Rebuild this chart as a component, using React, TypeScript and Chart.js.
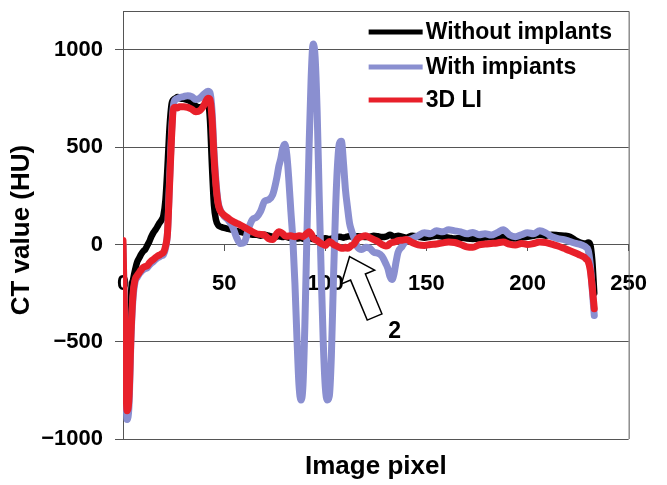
import React, { useEffect, useRef } from 'react';
import { Chart, registerables } from 'chart.js';

Chart.register(...registerables);

// Image pixel positions (x values shared by all three profiles)
const pixels = [
  0, 1, 2, 3, 4, 5, 6, 7, 8, 9, 10, 11, 12, 13, 14, 15, 16, 17, 18, 19, 20, 21, 22, 23, 24, 25, 26, 27, 28,
  30, 32, 34, 36, 38, 40, 42,
  43, 44, 45, 46, 47, 48, 49, 50,
  52, 54, 56, 58, 60, 62, 64, 66, 68, 70, 72, 74, 76,
  77, 78, 79, 80, 81, 82, 83, 84, 85, 86, 87, 88, 89, 90, 91, 92, 93, 94, 95, 96,
  97, 98, 99, 100, 101, 102, 103, 104, 105, 106, 107, 108, 109, 110, 111, 112, 113, 114, 115, 116,
  118, 120, 122, 124, 126, 128, 130,
  131, 132, 133, 134, 135, 136,
  138, 140, 143, 146, 149, 152, 155, 158, 161, 164, 167, 170, 173, 176, 179, 182, 185, 188, 191, 194,
  197, 200, 203, 206, 209, 212, 215, 218, 221, 224,
  226, 228, 229, 230, 231, 232, 233,
];

// CT values (HU)
const withoutImplants = [
  -150, -600, -850, -600, -250, -180, -130, -90, -70, -50, -35, -25, -5, 15, 40, 60, 75, 92, 110, 125, 150, 230, 400, 600, 720, 745, 752, 758, 752,
  748, 742, 730, 712, 705, 715, 725,
  640, 400, 200, 125, 100, 92, 88, 85,
  80, 75, 70, 65, 60, 55, 50, 50, 45, 50, 45, 40, 40,
  42, 40, 38, 40, 38, 35, 38, 35, 32, 30, 32, 35, 30, 28, 30, 32, 30, 28, 30, 32,
  30, 28, 30, 32, 30, 28, 30, 32, 35, 38, 40, 38, 35, 38, 40, 42, 40, 38, 40, 42,
  40, 38, 40, 45, 42, 38, 40,
  45, 50, 45, 40, 42, 45,
  40, 35, 45, 40, 35, 40, 45, 40, 35, 30, 35, 30, 28, 30, 35, 38, 35, 40, 35, 30,
  35, 40, 45, 50, 45, 50, 48, 45, 40, 20,
  10, 5, 5, 10, 0, -80, -250,
];

const withImplants = [
  0, -500, -900, -820, -470, -270, -190, -170, -152, -140, -130, -124, -120, -107, -96, -88, -78, -70, -64, -58, -52, -20, 60, 320, 580, 720, 745, 750, 755,
  760, 765, 760, 745, 752, 772, 788,
  780, 690, 480, 320, 220, 180, 160, 145,
  125, 95, 40, 5, 10, 80, 128, 140, 170, 222, 230, 255, 340,
  400, 440, 495, 515, 460, 330, 170, 20, -200, -480, -720, -800, -720, -380, 80, 500, 850, 1030, 960, 680,
  250, -150, -500, -730, -800, -780, -580, -200, 150, 400, 520, 530, 420, 280, 190, 110, 70, 40, 10, -15,
  -26, -15, -20, -40, -45, -60, -100,
  -125, -165, -180, -150, -90, -40,
  -10, 20, 30, 45, 60, 55, 70, 65, 75, 70, 65, 55, 62, 50, 55, 48, 60, 75, 50, 40,
  50, 60, 55, 70, 60, 40, 30, 25, 15, 5,
  0, -8, -15, -30, -100, -230, -365,
];

const li3d = [
  20, -500, -855, -780, -450, -250, -180, -160, -145, -130, -118, -113, -110, -95, -85, -77, -68, -60, -55, -48, -41, -10, 60, 300, 550, 700, 705, 702, 708,
  708, 705, 695, 682, 688, 715, 752,
  745, 650, 450, 300, 210, 175, 160, 150,
  135, 120, 110, 100, 88, 77, 65, 55, 52, 48, 30, 25, 55,
  65, 62, 55, 45, 42, 43, 45, 42, 40, 42, 45, 43, 40, 48, 58, 65, 55, 35, 25, 20,
  12, 5, 0, -5, 5, 15, 10, 0, -5, -10, -15, -20, -20, -15, -20, -15, -5, 0, 15, 30,
  40, 45, 35, 25, 15, 0, -8,
  -5, 5, 10, 12, 15, 20,
  22, 25, 10, -2, -5, 0, 2, 8, 12, 10, 0, -12, -15, -2, 2, 5, 8, 12, 2, -3,
  5, 0, 5, 12, 10, 2, -8, -20, -32, -45,
  -55, -65, -75, -88, -130, -220, -330,
];

const seriesLabels = ['Without implants', 'With impiants', '3D LI'];
const seriesColors = ['#000000', '#8a8fd0', '#e8202a'];
const xTicks = [0, 50, 100, 150, 200, 250];
const yTicks = [-1000, -500, 0, 500, 1000];
const xTitle = 'Image pixel';
const yTitle = 'CT value (HU)';

// Arrow annotation (data coordinates)
const arrowTip = [112, -63];
const arrowTail = [124.4, -373];
const arrowText = '2';
const arrowTextAt = [134.3, -447];

const FONT = "'Liberation Sans', Arial, sans-serif";

const decorPlugin = {
  id: 'decor',
  afterDatasetsDraw(chart: any) {
    const { ctx, chartArea, scales } = chart;
    const xs = scales.x;
    const ys = scales.y;
    ctx.save();
    // plot frame (top + right)
    ctx.strokeStyle = '#555';
    ctx.lineWidth = 1;
    ctx.beginPath();
    ctx.moveTo(chartArea.left, chartArea.top + 0.5);
    ctx.lineTo(chartArea.right + 0.5, chartArea.top + 0.5);
    ctx.lineTo(chartArea.right + 0.5, chartArea.bottom);
    ctx.stroke();

    // arrow
    const tip = { x: xs.getPixelForValue(arrowTip[0]), y: ys.getPixelForValue(arrowTip[1]) };
    const tail = { x: xs.getPixelForValue(arrowTail[0]), y: ys.getPixelForValue(arrowTail[1]) };
    const dx = tip.x - tail.x;
    const dy = tip.y - tail.y;
    const L = Math.hypot(dx, dy);
    const ux = dx / L, uy = dy / L;
    const nx = -uy, ny = ux;
    const headLen = 22, headHalf = 18, shaftHalf = 8;
    const bx = tip.x - ux * headLen, by = tip.y - uy * headLen;
    ctx.beginPath();
    ctx.moveTo(tail.x + nx * shaftHalf, tail.y + ny * shaftHalf);
    ctx.lineTo(bx + nx * shaftHalf, by + ny * shaftHalf);
    ctx.lineTo(bx + nx * headHalf, by + ny * headHalf);
    ctx.lineTo(tip.x, tip.y);
    ctx.lineTo(bx - nx * headHalf, by - ny * headHalf);
    ctx.lineTo(bx - nx * shaftHalf, by - ny * shaftHalf);
    ctx.lineTo(tail.x - nx * shaftHalf, tail.y - ny * shaftHalf);
    ctx.closePath();
    ctx.fillStyle = '#ffffff';
    ctx.fill();
    ctx.strokeStyle = '#000';
    ctx.lineWidth = 1.5;
    ctx.lineJoin = 'miter';
    ctx.stroke();
    ctx.fillStyle = '#000';
    ctx.font = `bold 23px ${FONT}`;
    ctx.textAlign = 'center';
    ctx.textBaseline = 'middle';
    ctx.fillText(arrowText, xs.getPixelForValue(arrowTextAt[0]), ys.getPixelForValue(arrowTextAt[1]));

    // legend
    const rows = [21, 56, 89];
    ctx.font = `bold 23px ${FONT}`;
    ctx.textAlign = 'left';
    for (let i = 0; i < seriesLabels.length; i++) {
      const y = chartArea.top + rows[i];
      ctx.strokeStyle = seriesColors[i];
      ctx.lineWidth = 5;
      ctx.lineCap = 'butt';
      ctx.beginPath();
      ctx.moveTo(chartArea.right - 260, y);
      ctx.lineTo(chartArea.right - 206, y);
      ctx.stroke();
      ctx.fillStyle = '#000';
      ctx.fillText(seriesLabels[i], chartArea.right - 203, y + 1);
    }

    // axis titles
    ctx.font = `bold 26px ${FONT}`;
    ctx.textAlign = 'center';
    ctx.textBaseline = 'middle';
    ctx.fillText(xTitle, (chartArea.left + chartArea.right) / 2, 467);
    ctx.save();
    ctx.translate(22, 230);
    ctx.rotate(-Math.PI / 2);
    ctx.fillText(yTitle, 0, 0);
    ctx.restore();
    ctx.restore();
  },
};

export default function App() {
  const ref = useRef<HTMLCanvasElement | null>(null);
  useEffect(() => {
    document.body.style.margin = '0';
    const canvas = ref.current;
    if (!canvas) return;
    const mk = (vals: number[]) => pixels.map((x, i) => ({ x, y: vals[i] }));
    const tickFont = { family: FONT, size: 22, weight: 'bold' as const };
    const chart = new Chart(canvas, {
      type: 'line',
      data: {
        datasets: [
          { label: seriesLabels[0], data: mk(withoutImplants), borderColor: seriesColors[0], borderWidth: 6.5, order: 2 },
          { label: seriesLabels[1], data: mk(withImplants), borderColor: seriesColors[1], borderWidth: 7, order: 1 },
          { label: seriesLabels[2], data: mk(li3d), borderColor: seriesColors[2], borderWidth: 7, order: 0 },
        ].map((d) => ({
          ...d,
          pointRadius: 0,
          cubicInterpolationMode: 'monotone' as const,
          fill: false,
          borderJoinStyle: 'round' as const,
          borderCapStyle: 'round' as const,
        })),
      },
      options: {
        animation: false,
        responsive: false,
        maintainAspectRatio: false,
        layout: { padding: { top: 11, right: 34, bottom: 46, left: 0 } },
        plugins: { legend: { display: false }, tooltip: { enabled: false } },
        scales: {
          x: {
            type: 'linear',
            min: 0,
            max: 250,
            position: { y: 0 } as any,
            afterBuildTicks: (s: any) => { s.ticks = xTicks.map((v) => ({ value: v })); },
            ticks: { font: tickFont, color: '#000', padding: 20, maxRotation: 0, autoSkip: false },
            grid: { drawOnChartArea: false, color: '#555', tickLength: 6 },
            border: { display: true, color: '#555' },
          },
          y: {
            type: 'linear',
            min: -1000,
            max: 1200,
            afterBuildTicks: (s: any) => { s.ticks = yTicks.map((v) => ({ value: v })); },
            afterFit: (s: any) => {
              s.width = 123;
              s.paddingTop = 0;
              s.paddingBottom = 0;
            },
            ticks: {
              font: tickFont,
              color: '#000',
              padding: 12,
              callback: (v: any) => (v < 0 ? '\u2212' + Math.abs(v) : String(v)),
            },
            grid: { color: '#555', lineWidth: 1, tickLength: 8 },
            border: { display: true, color: '#555' },
          },
        },
      },
      plugins: [decorPlugin],
    });
    return () => chart.destroy();
  }, []);
  return (
    <div style={{ width: 667, height: 485 }}>
      <canvas ref={ref} width={667} height={485} />
    </div>
  );
}
